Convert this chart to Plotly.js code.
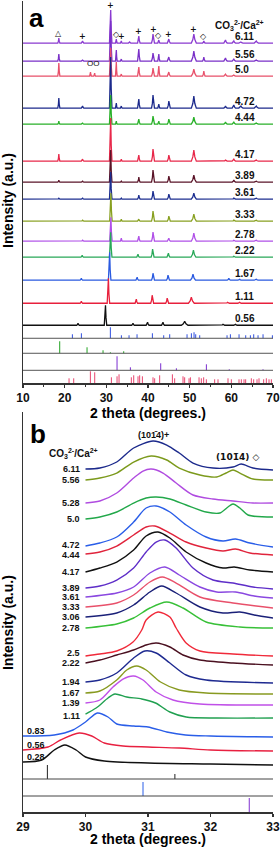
<!DOCTYPE html>
<html><head><meta charset="utf-8">
<script src="https://cdn.plot.ly/plotly-3.0.1.min.js"></script>
<style>html,body{margin:0;padding:0;background:#fff}#chart{width:280px;height:847px}</style>
</head><body><div id="chart"></div>
<script>
// ---------- Panel a : wide-angle patterns (peak lists: [2theta, height, half-width]) ----------
const ratiosA  = ['6.11','5.56','5.0','4.72','4.44','4.17','3.89','3.61','3.33','2.78','2.22','1.67','1.11','0.56'];
const offsetsA = [340, 322, 307, 275, 259, 222, 201, 184, 162, 142, 126, 103, 80, 58];
const colorsA  = ['#8a3ad0','#7a30c8','#e8506a','#1c2a8c','#28b028','#e8284a','#5a1428','#1c2e90','#88a020','#b050e8','#28a858','#2a5ae0','#e8203c','#111111'];

const peaks611 = [[18.6,5,.25],[24.3,2,.3],[31.05,33,.3],[32.4,4,.2],[33.6,2,.2],[35.6,1,.3],[37.8,7,.3],[41.2,9,.35],[42.6,3,.25],[45.0,4,.35],[51.0,9,.6],[53.4,2,.3],[58.6,3,.4],[60.6,2,.4],[62.3,1,.5],[66.0,2,.5]];
const peaks556 = [[18.6,7,.25],[24.3,1,.3],[31.05,40,.3],[32.4,11,.2],[33.6,2,.2],[37.8,12,.3],[41.2,8,.35],[42.6,7,.25],[45.0,4,.35],[51.0,10,.6],[53.4,4,.3],[58.6,3,.4],[60.6,2,.4],[66.0,1,.5]];
const peaks500 = [[18.6,13,.25],[26.2,4,.2],[27.2,3,.2],[31.05,28,.3],[32.4,14,.2],[33.6,2,.2],[37.8,9,.3],[41.2,8,.35],[42.6,10,.25],[45.0,4,.35],[51.0,7,.6],[53.4,5,.3],[58.6,2,.4],[60.6,1,.4]];
const peaks472 = [[18.6,10,.25],[24.3,2,.3],[31.05,51,.3],[32.4,5,.2],[33.6,2,.2],[37.8,9,.3],[41.2,13,.35],[42.6,4,.25],[45.0,7,.35],[51.0,12,.6],[58.6,2,.4],[60.6,3,.4],[62.3,2,.5],[66.0,2,.5]];
const peaks444 = [[18.6,3,.25],[24.3,1,.3],[31.05,29,.3],[32.4,3,.2],[37.8,5,.3],[41.2,8,.35],[42.6,3,.25],[45.0,5,.35],[51.0,7,.6],[58.6,2,.4],[60.6,2,.4],[66.0,1,.5]];
const peaks417 = [[18.6,7,.25],[24.3,2,.3],[31.05,43,.3],[33.6,2,.2],[37.8,6,.3],[41.2,12,.35],[45.0,6,.35],[51.0,11,.6],[58.6,1,.4],[60.6,2,.4],[66.0,1,.5]];
const peaks389 = [[18.6,2,.25],[24.3,1,.3],[31.05,32,.3],[33.6,1,.2],[37.8,5,.3],[41.2,12,.35],[45.0,6,.35],[51.0,7,.6],[60.6,2,.4],[66.0,1,.5]];
const peaks361 = [[18.6,1,.25],[24.3,1,.3],[31.05,27,.3],[33.6,1,.2],[37.8,4,.3],[41.2,8,.35],[45.0,5,.35],[51.0,6,.6],[60.6,1,.4],[66.0,1,.5]];
const peaks333 = [[24.3,1,.3],[31.1,28,.3],[33.6,2,.2],[37.8,2,.3],[41.2,10,.35],[45.0,5,.35],[51.0,7,.6],[60.6,1,.4],[66.0,1,.5]];
const peaks278 = [[24.3,1,.3],[31.1,24,.3],[33.6,3,.2],[37.8,5,.3],[41.2,9,.35],[45.0,3,.35],[51.0,8,.6],[60.6,1,.4],[66.0,1,.5]];
const peaks222 = [[24.2,2,.3],[31.05,25,.3],[37.6,3,.3],[41.1,8,.35],[44.9,4,.35],[50.9,7,.6],[60.6,1,.4]];
const peaks167 = [[24.0,2,.3],[30.8,28,.3],[37.4,3,.3],[41.2,7,.35],[44.8,5,.35],[50.8,6,.6],[59.4,2,.4],[62.0,1,.4],[66.0,1,.5]];
const peaks111 = [[24.0,2,.3],[30.5,25,.3],[37.2,4,.3],[41.0,8,.35],[44.6,5,.35],[50.4,6,.7],[59.1,1,.4],[62.0,1,.4]];
const peaks056 = [[23.2,2,.3],[29.8,20,.3],[36.4,2,.3],[39.9,3,.35],[43.6,3,.35],[48.8,4,.8],[58.0,1,.4],[61.0,1,.4]];
const peakListsA = [peaks611,peaks556,peaks500,peaks472,peaks444,peaks417,peaks389,peaks361,peaks333,peaks278,peaks222,peaks167,peaks111,peaks056];

// reference stick patterns (panel a)
const refBlueX   = [21.85,24.01,30.97,33.61,35.45,37.37,41.05,43.77,45.21,49.37,50.41,51.05,51.45,52.41,58.97,59.77,61.85,63.45,64.57,65.37,66.41,67.61,69.85];
const refBlueH   = [4,5,11,3,3,4,5,3,4,4,5,6,4,3,3,4,4,3,3,4,3,4,3];
const refGreenX  = [18.81,25.37,29.21,30.97,34.17];
const refGreenH  = [12,6,3,1,2];
const refPurpleX = [32.57,35.77,43.05,46.81,54.01,59.5,67.6];
const refPurpleH = [14,3,7,2,6,1,1];
const refRedX    = [21.05,22.17,26.17,27.21,31.21,32.57,33.05,36.0,36.57,37.6,38.0,38.65,41.2,41.6,42.8,45.85,46.4,48.4,48.8,49.85,50.17,52.25,52.8,53.36,54.0,56.0,56.8,59.2,60.0,61.84,62.4,63.04,63.44,64.8,65.36,66.16,66.64,67.76,68.4,69.04,69.6];
const refRedH    = [5,5,12,11,6,7,9,6,8,7,8,7,6,5,8,9,5,7,6,5,6,6,5,6,4,4,4,5,4,4,4,4,4,5,4,4,5,4,5,4,4];
const refBasesA  = [45, 30, 13, 0];

// phase markers above the top pattern
const markerPos = [18.6,24.3,31.05,32.4,33.6,37.8,41.2,42.6,45.0,51.0,53.4];
const markerSym = ['△','+','+','◇','+','+','+','◇','+','+','◇'];

// ---------- Panel b : (10-14) region, points [2theta, intensity] ----------
const ratiosB = ['6.11','5.56','5.28','5.0','4.72','4.44','4.17','3.89','3.61','3.33','3.06','2.78','2.5','2.22','1.94','1.67','1.39','1.11','0.83','0.56','0.28'];
const colorsB = ['#1c2a8c','#7c9a1c','#b04ce0','#22a84a','#2a5ee8','#e0243c','#111111','#5e2ec8','#8a48e0','#e8506a','#1a2078','#38c038','#f02a3a','#4a1020','#1e2a90','#889a20','#c050e8','#20a050','#2a5ee8','#e82040','#111111'];
const b611 = [[30,343],[30.23,344],[30.5,350],[30.77,364],[31.08,371],[31.3,367],[31.5,359],[31.72,349],[32.04,344],[32.36,345],[32.49,348],[32.68,344],[33,342]];
const b556 = [[30,332],[30.23,334],[30.5,339],[30.77,350],[31.05,356],[31.3,352],[31.5,344],[31.83,337],[32.1,335],[32.25,339],[32.36,342],[32.47,339],[32.68,333],[33,332]];
const b528 = [[30,309],[30.23,311],[30.5,319],[30.77,334],[30.92,341],[31.05,343],[31.24,339],[31.45,329],[31.72,317],[32.04,313],[32.36,311],[32.68,309],[33,309]];
const b500 = [[30,293],[30.23,295],[30.5,300],[30.77,309],[30.97,314],[31.13,315],[31.35,313],[31.61,307],[31.93,300],[32.15,299],[32.28,305],[32.36,308],[32.47,304],[32.6,297],[33,295]];
const b472 = [[30,266],[30.23,269],[30.5,275],[30.77,290],[30.97,304],[31.13,306],[31.35,300],[31.61,287],[31.93,275],[32.2,271],[32.4,273],[32.63,269],[33,265]];
const b444 = [[30,258],[30.23,260],[30.5,266],[30.77,277],[30.97,285],[31.11,286],[31.35,279],[31.61,270],[31.93,264],[32.2,261],[32.4,263],[32.63,259],[33,257]];
const b417 = [[30,240],[30.23,244],[30.5,250],[30.77,262],[30.97,276],[31.16,280],[31.35,274],[31.61,260],[31.93,249],[32.2,244],[32.38,245],[32.63,242],[33,240]];
const b389 = [[30,224],[30.23,226],[30.5,232],[30.77,244],[30.97,260],[31.13,270],[31.27,272],[31.45,264],[31.72,244],[32.04,232],[32.36,229],[32.68,225],[33,223]];
const b361 = [[30,215],[30.5,219],[30.77,225],[31.03,239],[31.27,245],[31.5,237],[31.83,225],[32.1,220],[32.4,220],[32.7,216],[33,214]];
const b333 = [[30,205],[30.5,209],[30.77,217],[31.03,230],[31.23,235],[31.45,229],[31.83,215],[32.36,209],[33,204]];
const b306 = [[30,195],[30.5,199],[30.77,207],[31.03,220],[31.22,226],[31.45,219],[31.83,205],[32.2,199],[32.47,200],[32.7,197],[33,194]];
const b278 = [[30,184],[30.5,188],[30.77,194],[31.03,204],[31.3,210],[31.56,204],[31.93,190],[32.47,185],[33,184]];
const b250 = [[30,156],[30.23,158],[30.5,161],[30.76,170],[30.9,182],[30.97,192],[31.16,200],[31.35,195],[31.45,184],[31.61,169],[31.83,161],[32.36,158],[33,156]];
const b222 = [[30,149],[30.23,152],[30.5,157],[30.77,162],[30.97,167],[31.13,169],[31.35,165],[31.56,157],[31.83,152],[32.36,149],[33,147]];
const b194 = [[30,130],[30.23,132],[30.5,139],[30.77,154],[30.95,161],[31.13,159],[31.35,149],[31.61,137],[31.93,132],[33,129]];
const b167 = [[30,119],[30.23,121],[30.5,132],[30.66,142],[30.82,146],[30.97,142],[31.2,130],[31.5,122],[31.93,119],[33,118]];
const b139 = [[30,109],[30.23,112],[30.44,125],[30.6,133],[30.77,136],[30.92,132],[31.13,120],[31.4,112],[31.83,108],[33,107]];
const b111 = [[30,98],[30.17,104],[30.36,114],[30.47,118],[30.66,115],[30.9,113],[31.12,109],[31.35,100],[31.61,95],[32.1,94],[33,94]];
const b083 = [[29,76],[29.5,77],[29.8,82],[30.0,90],[30.19,99],[30.36,95],[30.5,88],[30.77,86],[31.0,85],[31.3,80],[31.6,77],[32,76],[33,75]];
const b056 = [[29,62],[29.4,65],[29.6,72],[29.9,79],[30.1,76],[30.3,69],[30.6,66],[31.0,65],[31.5,64],[32,62],[33,61]];
const b028 = [[29,50],[29.3,52],[29.5,62],[29.67,67],[29.85,62],[30.0,55],[30.3,51],[31,49],[32,48],[33,47]];
const pointListsB = [b611,b556,b528,b500,b472,b444,b417,b389,b361,b333,b306,b278,b250,b222,b194,b167,b139,b111,b083,b056,b028];

// reference sticks (panel b)
const refBX = [[29.39,31.43],[30.92],[32.62]];
const refBH = [[14,5],[14],[14]];
const refBasesB = [33, 16, 0];
const refColorsB = ['#222222','#2a5ee8','#8030d0'];

// ---------- build ----------
const FONT = 'Liberation Sans, Arial, Helvetica, sans-serif';
const labelNudgeB = {'2.5': 3, '4.72': 1, '4.44': -1, '1.11': -2};  // small layout nudges of label text (px-units)
function peakValue(x, p, h, w) {
  const d = Math.abs(x - p);
  if (d >= w) return 0;
  if (d <= 0.4 * w) return h * (1 - 0.62 * d / (0.4 * w));
  return 0.38 * h * (w - d) / (0.6 * w);
}
function pattern(peaks, base) {
  const set = new Set([10, 70]);
  peaks.forEach(([p, h, w]) => [p - w, p - 0.4 * w, p, p + 0.4 * w, p + w].forEach(v => set.add(+v.toFixed(4))));
  const xs = [...set].filter(v => v >= 10 && v <= 70).sort((a, b) => a - b);
  const ys = xs.map(x => base + peaks.reduce((s, [p, h, w]) => s + peakValue(x, p, h, w), 0));
  return {xs, ys};
}
function sticks(xs, hs, base, color, xa, ya) {
  const x = [], y = [];
  xs.forEach((p, i) => { x.push(p, p, null); y.push(base, base + hs[i], null); });
  return {type: 'scatter', mode: 'lines', x, y, xaxis: xa, yaxis: ya, line: {color, width: 1}, hoverinfo: 'skip', showlegend: false};
}

const traces = [];
const annotations = [];
const shapes = [];

peakListsA.forEach((pk, i) => {
  const {xs, ys} = pattern(pk, offsetsA[i]);
  traces.push({type: 'scatter', mode: 'lines', x: xs, y: ys, xaxis: 'x', yaxis: 'y',
    line: {color: colorsA[i], width: 1.3}, name: ratiosA[i], showlegend: false, hoverinfo: 'skip'});
  annotations.push({xref: 'x', yref: 'y', x: 60.3, y: offsetsA[i] + 7, text: ratiosA[i], showarrow: false,
    xanchor: 'left', yanchor: 'middle', font: {family: FONT, size: 10, weight: 700, color: '#111'}});
});
[[refBlueX, refBlueH, '#2f4fe0'], [refGreenX, refGreenH, '#22a322'], [refPurpleX, refPurpleH, '#7a2ed0'], [refRedX, refRedH, '#e8456e']]
  .forEach(([xs, hs, c], i) => traces.push(sticks(xs, hs, refBasesA[i], c, 'x', 'y')));
refBasesA.slice(0, 3).forEach(b => shapes.push({type: 'line', xref: 'paper', yref: 'y', x0: 0, x1: 1, y0: b, y1: b, line: {color: '#555', width: 1}}));

// markers over the top pattern
markerPos.forEach((p, i) => {
  const pk = peaks611.find(q => Math.abs(q[0] - p) < 0.01);
  const top = offsetsA[0] + (pk ? pk[1] : 0);
  annotations.push({xref: 'x', yref: 'y', x: p, y: top + 5, text: markerSym[i], showarrow: false,
    xanchor: 'center', yanchor: 'middle', font: {family: 'DejaVu Sans, sans-serif', size: 8, weight: 700, color: '#111'}});
});
annotations.push({xref: 'x', yref: 'y', x: 26.7, y: offsetsA[2] + 13, text: 'OO', showarrow: false,
  xanchor: 'center', yanchor: 'middle', font: {family: FONT, size: 8, color: '#111'}});
annotations.push({xref: 'x', yref: 'y', x: 62.0, y: 358, text: 'CO<sub>3</sub><sup>2-</sup>/Ca<sup>2+</sup>', showarrow: false,
  xanchor: 'center', yanchor: 'middle', font: {family: FONT, size: 10, weight: 700, color: '#111'}});

pointListsB.forEach((pts, i) => {
  traces.push({type: 'scatter', mode: 'lines', x: pts.map(p => p[0]), y: pts.map(p => p[1]), xaxis: 'x2', yaxis: 'y2',
    line: {color: colorsB[i], width: 1.4, shape: 'spline', smoothing: 0.8}, name: ratiosB[i], showlegend: false, hoverinfo: 'skip'});
  const left = pts[0][0] < 29.5;
  annotations.push({xref: 'x2', yref: 'y2', x: left ? 29.03 : 29.94, y: pts[0][1] + (left ? 5 : 0) + (labelNudgeB[ratiosB[i]] || 0),
    text: ratiosB[i], showarrow: false,
    xanchor: left ? 'left' : 'right', yanchor: 'middle', font: {family: FONT, size: 9, weight: 700, color: '#111'}});
});
refBX.forEach((xs, i) => traces.push(sticks(xs, refBH[i], refBasesB[i], refColorsB[i], 'x2', 'y2')));
refBasesB.slice(0, 2).forEach(b => shapes.push({type: 'line', xref: 'paper', yref: 'y2', x0: 0, x1: 1, y0: b, y1: b, line: {color: '#444', width: 1}}));
annotations.push({xref: 'x2', yref: 'y2', x: 29.81, y: 359, text: 'CO<sub>3</sub><sup>2-</sup>/Ca<sup>2+</sup>', showarrow: false,
  xanchor: 'center', yanchor: 'middle', font: {family: FONT, size: 10, weight: 700, color: '#111'}});
annotations.push({xref: 'x2', yref: 'y2', x: 31.09, y: 377, text: '(101\u03044)+', showarrow: false,
  xanchor: 'center', yanchor: 'middle', font: {family: FONT, size: 9, weight: 700, color: '#111'}});
annotations.push({xref: 'x2', yref: 'y2', x: 32.43, y: 355, text: '(101\u03044) ◇', showarrow: false,
  xanchor: 'center', yanchor: 'middle', font: {family: 'DejaVu Sans, sans-serif', size: 9, weight: 700, color: '#111'}});

// panel letters and y titles
annotations.push({xref: 'paper', yref: 'paper', x: 0.052, y: 1.0, text: 'a', showarrow: false, xanchor: 'center', yanchor: 'top',
  font: {family: FONT, size: 26, weight: 700, color: '#000'}});
annotations.push({xref: 'paper', yref: 'paper', x: 0.06, y: 0.487, text: 'b', showarrow: false, xanchor: 'center', yanchor: 'top',
  font: {family: FONT, size: 26, weight: 700, color: '#000'}});
[0.7534, 0.233].forEach(yy => annotations.push({xref: 'paper', yref: 'paper', x: -0.06, y: yy, text: 'Intensity (a.u.)', textangle: -90,
  showarrow: false, xanchor: 'center', yanchor: 'middle', font: {family: FONT, size: 14, weight: 700, color: '#000'}}));

const axisX = {showline: true, linecolor: '#333', linewidth: 1.5, ticks: 'outside', ticklen: 3, tickwidth: 1.2, tickcolor: '#333',
  showgrid: false, zeroline: false, tickfont: {family: FONT, size: 12, weight: 700, color: '#111'}};
const axisY = {showline: true, linecolor: '#333', linewidth: 1.5, ticks: '', showticklabels: false, showgrid: false, zeroline: false, fixedrange: true};

const layout = {
  width: 280, height: 847, margin: {l: 23, r: 7, t: 1, b: 35}, paper_bgcolor: '#fff', plot_bgcolor: '#fff',
  font: {family: FONT},
  xaxis: Object.assign({}, axisX, {domain: [0, 1], anchor: 'y', range: [10, 70], dtick: 10, minor: {dtick: 5, ticks: 'outside', ticklen: 2, tickcolor: '#333'},
    title: {text: '2 theta (degrees.)', font: {family: FONT, size: 14, weight: 700, color: '#000'}, standoff: 3}}),
  yaxis: Object.assign({}, axisY, {domain: [0.5286, 1], anchor: 'x', range: [0, 382]}),
  xaxis2: Object.assign({}, axisX, {domain: [0, 1], anchor: 'y2', range: [29, 33], dtick: 1,
    title: {text: '2 theta (degrees.)', font: {family: FONT, size: 14, weight: 700, color: '#000'}, standoff: 4}}),
  yaxis2: Object.assign({}, axisY, {domain: [0, 0.4932], anchor: 'x2', range: [0, 400]}),
  annotations, shapes, showlegend: false
};
Plotly.newPlot('chart', traces, layout, {staticPlot: true, displayModeBar: false});
</script></body></html>
